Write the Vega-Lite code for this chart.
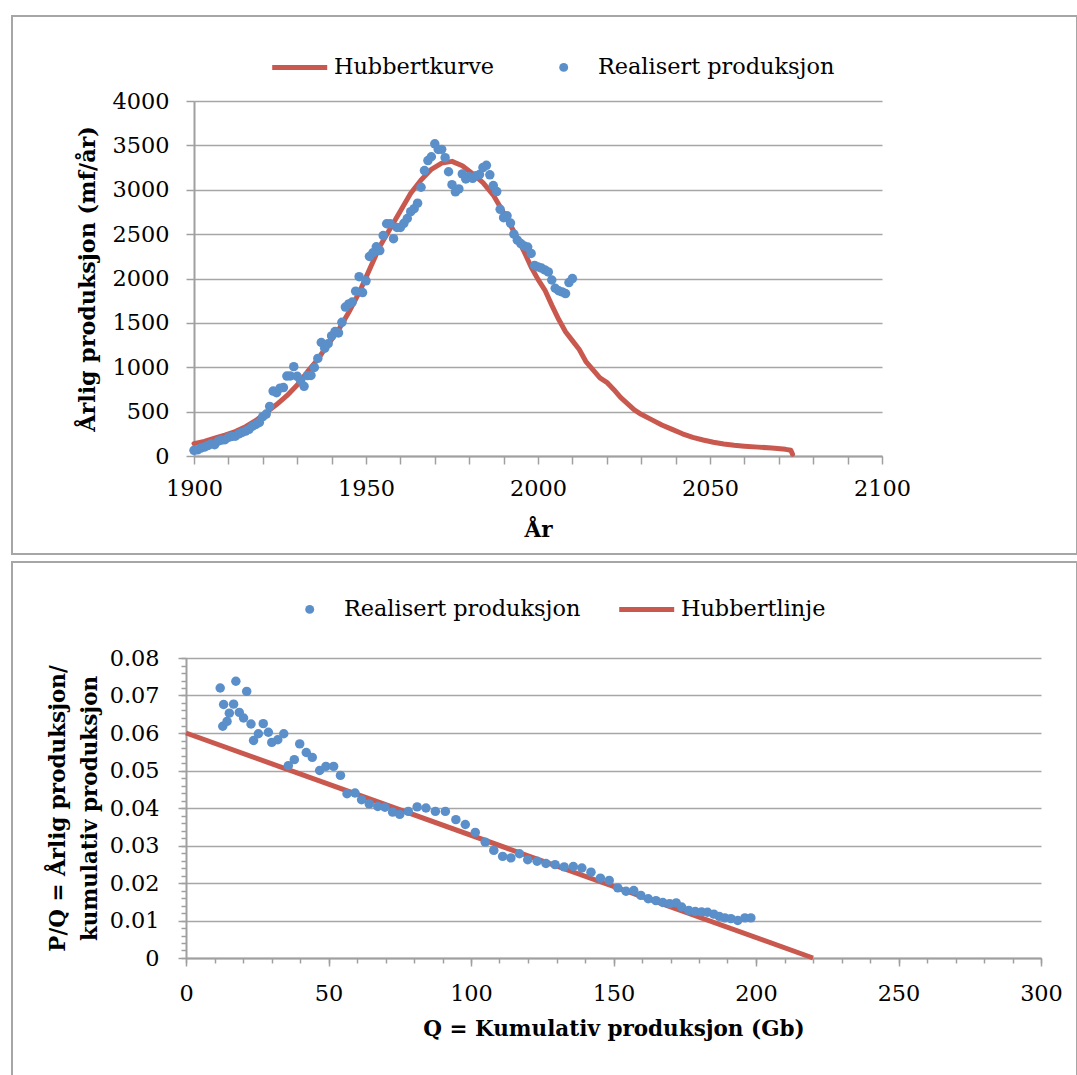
{
  "$schema": "https://vega.github.io/schema/vega-lite/v6.json",
  "background": "white",
  "padding": {"left": 11, "top": 15, "right": 0, "bottom": 0},
  "spacing": 6,
  "config": {
    "view": {"stroke": "#a6a6a6", "strokeWidth": 2},
    "font": "DejaVu Serif",
    "axis": {
      "labelFont": "DejaVu Serif", "labelFontSize": 22.4, "labelColor": "#000000",
      "titleFont": "DejaVu Serif", "titleFontSize": 21.5, "titleFontWeight": "bold", "titleColor": "#000000",
      "domainColor": "#a0a0a0", "domainWidth": 2, "tickColor": "#a0a0a0", "tickWidth": 1.5,
      "gridColor": "#a6a6a6", "gridWidth": 1.3, "labelFlush": false, "labelOverlap": false
    },
    "legend": {"labelFont": "DejaVu Serif", "labelFontSize": 22.4, "labelColor": "#000000", "padding": 0, "labelLimit": 0}
  },
  "resolve": {"scale": {"color": "independent"}},
  "datasets": {
    "kurve": [
      {"year": 1900, "v": 140}, {"year": 1903, "v": 165}, {"year": 1906, "v": 200}, {"year": 1909, "v": 235},
      {"year": 1912, "v": 275}, {"year": 1915, "v": 330}, {"year": 1918, "v": 400}, {"year": 1921, "v": 490},
      {"year": 1924, "v": 580}, {"year": 1927, "v": 680}, {"year": 1930, "v": 800}, {"year": 1933, "v": 950},
      {"year": 1936, "v": 1090}, {"year": 1939, "v": 1260}, {"year": 1942, "v": 1420}, {"year": 1945, "v": 1620},
      {"year": 1948, "v": 1840}, {"year": 1951, "v": 2100}, {"year": 1954, "v": 2360}, {"year": 1957, "v": 2560},
      {"year": 1960, "v": 2760}, {"year": 1963, "v": 2960}, {"year": 1966, "v": 3110}, {"year": 1969, "v": 3230},
      {"year": 1972, "v": 3300}, {"year": 1975, "v": 3320}, {"year": 1978, "v": 3270}, {"year": 1981, "v": 3180},
      {"year": 1984, "v": 3080}, {"year": 1987, "v": 2940}, {"year": 1990, "v": 2740}, {"year": 1993, "v": 2530},
      {"year": 1996, "v": 2300}, {"year": 1998, "v": 2130}, {"year": 2000, "v": 1990}, {"year": 2002, "v": 1870},
      {"year": 2004, "v": 1700}, {"year": 2006, "v": 1540}, {"year": 2008, "v": 1400}, {"year": 2010, "v": 1300},
      {"year": 2012, "v": 1200}, {"year": 2014, "v": 1060}, {"year": 2016, "v": 970}, {"year": 2018, "v": 880},
      {"year": 2020, "v": 830}, {"year": 2022, "v": 750}, {"year": 2024, "v": 660}, {"year": 2026, "v": 590},
      {"year": 2028, "v": 520}, {"year": 2030, "v": 470}, {"year": 2033, "v": 410}, {"year": 2036, "v": 350},
      {"year": 2039, "v": 300}, {"year": 2042, "v": 250}, {"year": 2045, "v": 210}, {"year": 2048, "v": 180},
      {"year": 2051, "v": 155}, {"year": 2054, "v": 135}, {"year": 2057, "v": 120}, {"year": 2060, "v": 110},
      {"year": 2064, "v": 100}, {"year": 2068, "v": 90}, {"year": 2072, "v": 75}, {"year": 2073.5, "v": 65},
      {"year": 2074, "v": 20}
    ],
    "prod": [
      {"year": 1900, "v": 64}, {"year": 1901, "v": 69}, {"year": 1902, "v": 89}, {"year": 1903, "v": 101},
      {"year": 1904, "v": 117}, {"year": 1905, "v": 135}, {"year": 1906, "v": 127}, {"year": 1907, "v": 166},
      {"year": 1908, "v": 179}, {"year": 1909, "v": 183}, {"year": 1910, "v": 210}, {"year": 1911, "v": 220},
      {"year": 1912, "v": 223}, {"year": 1913, "v": 248}, {"year": 1914, "v": 266}, {"year": 1915, "v": 281},
      {"year": 1916, "v": 301}, {"year": 1917, "v": 335}, {"year": 1918, "v": 356}, {"year": 1919, "v": 378},
      {"year": 1920, "v": 443}, {"year": 1921, "v": 472}, {"year": 1922, "v": 558}, {"year": 1923, "v": 732},
      {"year": 1924, "v": 714}, {"year": 1925, "v": 764}, {"year": 1926, "v": 771}, {"year": 1927, "v": 901},
      {"year": 1928, "v": 902}, {"year": 1929, "v": 1007}, {"year": 1930, "v": 898}, {"year": 1931, "v": 851},
      {"year": 1932, "v": 785}, {"year": 1933, "v": 906}, {"year": 1934, "v": 908}, {"year": 1935, "v": 997},
      {"year": 1936, "v": 1100}, {"year": 1937, "v": 1279}, {"year": 1938, "v": 1214}, {"year": 1939, "v": 1265},
      {"year": 1940, "v": 1353}, {"year": 1941, "v": 1402}, {"year": 1942, "v": 1387}, {"year": 1943, "v": 1506},
      {"year": 1944, "v": 1678}, {"year": 1945, "v": 1714}, {"year": 1946, "v": 1734}, {"year": 1947, "v": 1857},
      {"year": 1948, "v": 2020}, {"year": 1949, "v": 1842}, {"year": 1950, "v": 1974}, {"year": 1951, "v": 2248},
      {"year": 1952, "v": 2290}, {"year": 1953, "v": 2357}, {"year": 1954, "v": 2315}, {"year": 1955, "v": 2484},
      {"year": 1956, "v": 2617}, {"year": 1957, "v": 2617}, {"year": 1958, "v": 2449}, {"year": 1959, "v": 2575},
      {"year": 1960, "v": 2575}, {"year": 1961, "v": 2622}, {"year": 1962, "v": 2676}, {"year": 1963, "v": 2753},
      {"year": 1964, "v": 2787}, {"year": 1965, "v": 2849}, {"year": 1966, "v": 3028}, {"year": 1967, "v": 3216},
      {"year": 1968, "v": 3329}, {"year": 1969, "v": 3372}, {"year": 1970, "v": 3518}, {"year": 1971, "v": 3454},
      {"year": 1972, "v": 3455}, {"year": 1973, "v": 3361}, {"year": 1974, "v": 3203}, {"year": 1975, "v": 3057},
      {"year": 1976, "v": 2976}, {"year": 1977, "v": 3009}, {"year": 1978, "v": 3178}, {"year": 1979, "v": 3121},
      {"year": 1980, "v": 3146}, {"year": 1981, "v": 3129}, {"year": 1982, "v": 3157}, {"year": 1983, "v": 3171},
      {"year": 1984, "v": 3250}, {"year": 1985, "v": 3275}, {"year": 1986, "v": 3168}, {"year": 1987, "v": 3047},
      {"year": 1988, "v": 2979}, {"year": 1989, "v": 2779}, {"year": 1990, "v": 2685}, {"year": 1991, "v": 2707},
      {"year": 1992, "v": 2625}, {"year": 1993, "v": 2499}, {"year": 1994, "v": 2432}, {"year": 1995, "v": 2394},
      {"year": 1996, "v": 2366}, {"year": 1997, "v": 2355}, {"year": 1998, "v": 2282}, {"year": 1999, "v": 2147},
      {"year": 2000, "v": 2131}, {"year": 2001, "v": 2118}, {"year": 2002, "v": 2097}, {"year": 2003, "v": 2074},
      {"year": 2004, "v": 1983}, {"year": 2005, "v": 1890}, {"year": 2006, "v": 1862}, {"year": 2007, "v": 1849},
      {"year": 2008, "v": 1830}, {"year": 2009, "v": 1954}, {"year": 2010, "v": 1999}
    ],
    "pq": [
      {"Q": 12.0, "pq": 0.0720}, {"Q": 12.9, "pq": 0.0618}, {"Q": 13.2, "pq": 0.0676}, {"Q": 14.4, "pq": 0.0631},
      {"Q": 15.2, "pq": 0.0653}, {"Q": 16.7, "pq": 0.0677}, {"Q": 17.5, "pq": 0.0738}, {"Q": 18.7, "pq": 0.0655},
      {"Q": 20.2, "pq": 0.0640}, {"Q": 21.3, "pq": 0.0711}, {"Q": 22.8, "pq": 0.0624}, {"Q": 23.7, "pq": 0.0580},
      {"Q": 25.4, "pq": 0.0598}, {"Q": 27.1, "pq": 0.0625}, {"Q": 28.9, "pq": 0.0602}, {"Q": 30.1, "pq": 0.0575},
      {"Q": 32.2, "pq": 0.0582}, {"Q": 34.3, "pq": 0.0598}, {"Q": 35.9, "pq": 0.0513}, {"Q": 38.0, "pq": 0.0529},
      {"Q": 39.9, "pq": 0.0571}, {"Q": 42.2, "pq": 0.0548}, {"Q": 44.3, "pq": 0.0535}, {"Q": 46.9, "pq": 0.0500},
      {"Q": 49.1, "pq": 0.0511}, {"Q": 51.8, "pq": 0.0511}, {"Q": 54.2, "pq": 0.0487}, {"Q": 56.5, "pq": 0.0438},
      {"Q": 59.3, "pq": 0.0440}, {"Q": 61.6, "pq": 0.0422}, {"Q": 64.3, "pq": 0.0411}, {"Q": 67.3, "pq": 0.0404},
      {"Q": 69.8, "pq": 0.0402}, {"Q": 72.5, "pq": 0.0389}, {"Q": 75.0, "pq": 0.0383}, {"Q": 78.0, "pq": 0.0391},
      {"Q": 81.1, "pq": 0.0403}, {"Q": 84.2, "pq": 0.0400}, {"Q": 87.5, "pq": 0.0391}, {"Q": 91.0, "pq": 0.0391},
      {"Q": 94.7, "pq": 0.0369}, {"Q": 98.0, "pq": 0.0356}, {"Q": 101.5, "pq": 0.0335}, {"Q": 105.0, "pq": 0.0309},
      {"Q": 108.0, "pq": 0.0287}, {"Q": 111.1, "pq": 0.0271}, {"Q": 114.0, "pq": 0.0267}, {"Q": 117.0, "pq": 0.0278},
      {"Q": 119.9, "pq": 0.0262}, {"Q": 123.2, "pq": 0.0258}, {"Q": 126.3, "pq": 0.0252}, {"Q": 129.5, "pq": 0.0249},
      {"Q": 132.7, "pq": 0.0243}, {"Q": 135.9, "pq": 0.0244}, {"Q": 138.9, "pq": 0.0240}, {"Q": 142.1, "pq": 0.0229},
      {"Q": 145.4, "pq": 0.0213}, {"Q": 148.5, "pq": 0.0207}, {"Q": 151.5, "pq": 0.0187}, {"Q": 154.4, "pq": 0.0178},
      {"Q": 157.1, "pq": 0.0180}, {"Q": 159.6, "pq": 0.0167}, {"Q": 162.2, "pq": 0.0158}, {"Q": 164.9, "pq": 0.0153},
      {"Q": 167.3, "pq": 0.0148}, {"Q": 169.7, "pq": 0.0145}, {"Q": 172.0, "pq": 0.0147}, {"Q": 173.9, "pq": 0.0136},
      {"Q": 176.4, "pq": 0.0127}, {"Q": 178.7, "pq": 0.0124}, {"Q": 180.9, "pq": 0.0123}, {"Q": 183.0, "pq": 0.0122},
      {"Q": 185.2, "pq": 0.0117}, {"Q": 187.1, "pq": 0.0111}, {"Q": 189.1, "pq": 0.0107}, {"Q": 191.2, "pq": 0.0105},
      {"Q": 193.6, "pq": 0.0100}, {"Q": 196.1, "pq": 0.0107}, {"Q": 198.2, "pq": 0.0107}
    ],
    "linje": [{"Q": 0, "pq": 0.06}, {"Q": 220, "pq": 0}]
  },
  "vconcat": [
    {
      "width": 1065,
      "height": 538,
      "layer": [
        {
          "data": {"name": "kurve"},
          "mark": {"type": "line", "strokeWidth": 5, "strokeCap": "round", "strokeJoin": "round"},
          "encoding": {
            "x": {"field": "year", "type": "quantitative",
              "scale": {"domain": [1900, 2100], "range": [182, 870], "nice": false, "zero": false},
              "axis": {"orient": "bottom", "values": [1900, 1910, 1920, 1930, 1940, 1950, 1960, 1970, 1980, 1990, 2000, 2010, 2020, 2030, 2040, 2050, 2060, 2070, 2080, 2090, 2100],
                "labelExpr": "datum.value % 50 === 0 ? datum.label : ''",
                "offset": -98, "format": "d", "title": "År",
                "tickSize": 8, "labelPadding": 13, "grid": false, "titlePadding": 20,
                "encode": {"ticks": {"update": {"y2": {"signal": "datum.value % 50 === 0 ? 8 : 5"}}}}}},
            "y": {"field": "v", "type": "quantitative",
              "scale": {"domain": [0, 4000], "range": [440, 85], "nice": false, "zero": false},
              "axis": {"orient": "left", "values": [0, 500, 1000, 1500, 2000, 2500, 3000, 3500, 4000], "offset": -182, "format": "d",
                "title": "Årlig produksjon (mf/år)", "titleFontSize": 22.2, "tickSize": 8, "labelPadding": 17, "grid": true, "titlePadding": 13}},
            "color": {"datum": "Hubbertkurve", "type": "nominal",
              "scale": {"domain": ["Hubbertkurve", "Realisert produksjon"], "range": ["#c9594f", "#5a8fca"]},
              "legend": {"orient": "none", "legendX": 264, "legendY": 40, "direction": "horizontal", "title": null,
                "symbolSize": 3025, "symbolOffset": 12.5, "labelOffset": 23, "columnPadding": 45,
                "encode": {"symbols": {"update": {
                  "shape": {"signal": "datum.value === 'Hubbertkurve' ? 'stroke' : 'circle'"},
                  "size": {"signal": "datum.value === 'Hubbertkurve' ? 3025 : 80"},
                  "strokeWidth": {"signal": "datum.value === 'Hubbertkurve' ? 5 : 0"},
                  "stroke": {"signal": "datum.value === 'Hubbertkurve' ? '#c9594f' : '#5a8fca'"},
                  "fill": {"signal": "datum.value === 'Hubbertkurve' ? 'transparent' : '#5a8fca'"},
                  "opacity": {"value": 1}, "fillOpacity": {"value": 1}, "strokeOpacity": {"value": 1}
                }}}}}
          }
        },
        {
          "data": {"name": "prod"},
          "mark": {"type": "point", "filled": true, "size": 90, "opacity": 1},
          "encoding": {
            "x": {"field": "year", "type": "quantitative",
              "scale": {"domain": [1900, 2100], "range": [182, 870], "nice": false, "zero": false},
              "axis": {"orient": "bottom", "values": [1900, 1910, 1920, 1930, 1940, 1950, 1960, 1970, 1980, 1990, 2000, 2010, 2020, 2030, 2040, 2050, 2060, 2070, 2080, 2090, 2100],
                "labelExpr": "datum.value % 50 === 0 ? datum.label : ''",
                "offset": -98, "format": "d", "title": "År",
                "tickSize": 8, "labelPadding": 13, "grid": false, "titlePadding": 20,
                "encode": {"ticks": {"update": {"y2": {"signal": "datum.value % 50 === 0 ? 8 : 5"}}}}}},
            "y": {"field": "v", "type": "quantitative",
              "scale": {"domain": [0, 4000], "range": [440, 85], "nice": false, "zero": false},
              "axis": {"orient": "left", "values": [0, 500, 1000, 1500, 2000, 2500, 3000, 3500, 4000], "offset": -182, "format": "d",
                "title": "Årlig produksjon (mf/år)", "titleFontSize": 22.2, "tickSize": 8, "labelPadding": 17, "grid": true, "titlePadding": 13}},
            "color": {"datum": "Realisert produksjon", "type": "nominal"}
          }
        }
      ]
    },
    {
      "width": 1065,
      "height": 516,
      "layer": [
        {
          "data": {"name": "linje"},
          "mark": {"type": "line", "strokeWidth": 5, "strokeCap": "butt"},
          "encoding": {
            "x": {"field": "Q", "type": "quantitative",
              "scale": {"domain": [0, 300], "range": [174, 1029], "nice": false, "zero": false},
              "axis": {"orient": "bottom", "values": [0, 50, 100, 150, 200, 250, 300], "offset": -120, "format": "d",
                "title": "Q = Kumulativ produksjon (Gb)", "tickSize": 8, "labelPadding": 16, "grid": false, "titlePadding": 14}},
            "y": {"field": "pq", "type": "quantitative",
              "scale": {"domain": [0, 0.08], "range": [396, 96], "nice": false, "zero": false},
              "axis": {"orient": "left", "values": [0, 0.01, 0.02, 0.03, 0.04, 0.05, 0.06, 0.07, 0.08], "offset": -174, "format": ".2~f",
                "title": ["P/Q = Årlig produksjon/", "kumulativ produksjon"], "titleLineHeight": 32,
                "tickSize": 8, "labelPadding": 19, "grid": true, "titlePadding": 8}},
            "color": {"datum": "Hubbertlinje", "type": "nominal",
              "scale": {"domain": ["Realisert produksjon", "Hubbertlinje"], "range": ["#5a8fca", "#c9594f"]},
              "legend": {"orient": "none", "legendX": 274, "legendY": 36, "direction": "horizontal", "title": null,
                "symbolSize": 3025, "symbolOffset": 12.5, "labelOffset": 23, "columnPadding": 28,
                "encode": {"symbols": {"update": {
                  "shape": {"signal": "datum.value === 'Hubbertlinje' ? 'stroke' : 'circle'"},
                  "size": {"signal": "datum.value === 'Hubbertlinje' ? 3025 : 80"},
                  "strokeWidth": {"signal": "datum.value === 'Hubbertlinje' ? 5 : 0"},
                  "stroke": {"signal": "datum.value === 'Hubbertlinje' ? '#c9594f' : '#5a8fca'"},
                  "fill": {"signal": "datum.value === 'Hubbertlinje' ? 'transparent' : '#5a8fca'"},
                  "opacity": {"value": 1}, "fillOpacity": {"value": 1}, "strokeOpacity": {"value": 1}
                }}}}}
          }
        },
        {
          "data": {"name": "pq"},
          "mark": {"type": "point", "filled": true, "size": 90, "opacity": 1},
          "encoding": {
            "x": {"field": "Q", "type": "quantitative",
              "scale": {"domain": [0, 300], "range": [174, 1029], "nice": false, "zero": false},
              "axis": {"orient": "bottom", "values": [0, 10, 20, 30, 40, 50, 60, 70, 80, 90, 100, 110, 120, 130, 140, 150, 160, 170, 180, 190, 200, 210, 220, 230, 240, 250, 260, 270, 280, 290, 300],
                "offset": -120, "labels": false, "domain": false, "grid": false, "tickSize": 5, "title": null}},
            "y": {"field": "pq", "type": "quantitative",
              "scale": {"domain": [0, 0.08], "range": [396, 96], "nice": false, "zero": false},
              "axis": {"orient": "left", "values": [0, 0.002, 0.004, 0.006, 0.008, 0.01, 0.012, 0.014, 0.016, 0.018, 0.02, 0.022, 0.024, 0.026, 0.028, 0.03, 0.032, 0.034, 0.036, 0.038, 0.04, 0.042, 0.044, 0.046, 0.048, 0.05, 0.052, 0.054, 0.056, 0.058, 0.06, 0.062, 0.064, 0.066, 0.068, 0.07, 0.072, 0.074, 0.076, 0.078, 0.08],
                "offset": -174, "labels": false, "domain": false, "grid": false, "tickSize": 5, "title": null}},
            "color": {"datum": "Realisert produksjon", "type": "nominal"}
          }
        }
      ],
      "resolve": {"axis": {"x": "independent", "y": "independent"}}
    }
  ]
}
